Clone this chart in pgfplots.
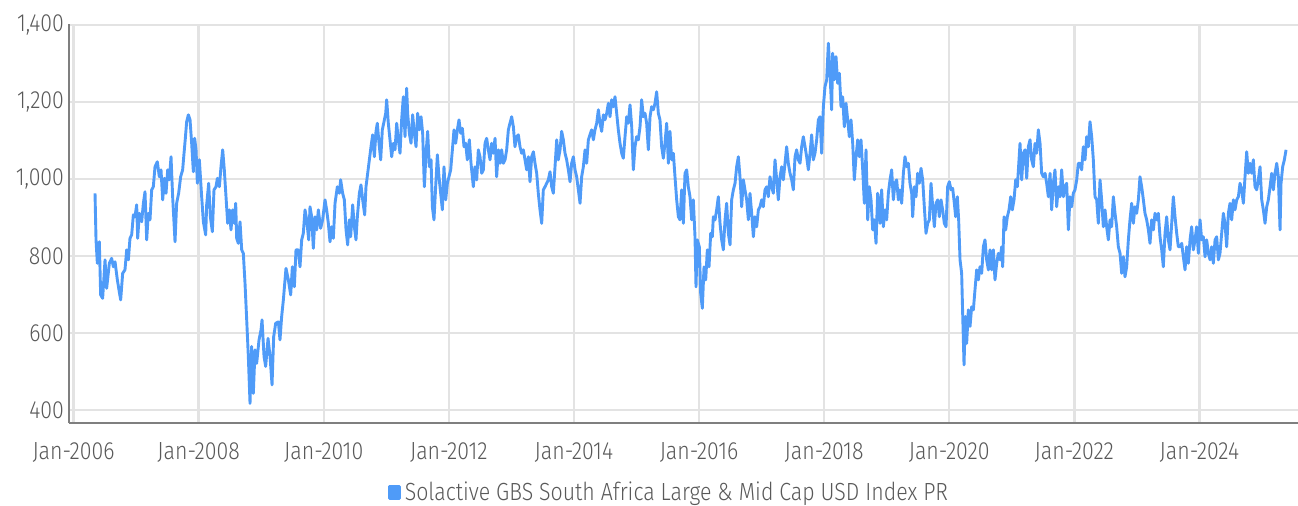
\documentclass[border=0pt]{standalone}
\usepackage{pgfplots}
\pgfplotsset{compat=1.18}
\usepackage{pgfplotstable}
\usepackage{fontspec}
\setmainfont{Fira Sans}[UprightFont=* Light, FakeStretch=0.86]
\definecolor{linecol}{HTML}{4F9BF8}
\definecolor{txtcol}{HTML}{595959}
\definecolor{gridcol}{HTML}{E3E3E3}
\definecolor{axcol}{HTML}{7F7F7F}
\pgfplotstableread{
t v
2006.344 963
2006.360 842
2006.381 781
2006.413 837
2006.434 699
2006.466 690
2006.504 790
2006.530 716
2006.573 781
2006.610 794
2006.637 772
2006.664 785
2006.701 738
2006.727 712
2006.754 686
2006.786 755
2006.823 764
2006.850 816
2006.877 790
2006.903 846
2006.930 855
2006.957 907
2006.983 902
2007.010 933
2007.026 846
2007.053 911
2007.090 889
2007.117 937
2007.143 967
2007.170 842
2007.196 911
2007.223 894
2007.250 972
2007.276 980
2007.303 1032
2007.340 1045
2007.372 1006
2007.399 1024
2007.426 946
2007.452 1002
2007.479 963
2007.506 1024
2007.532 998
2007.559 1058
2007.585 954
2007.623 837
2007.649 937
2007.681 963
2007.713 1006
2007.745 1024
2007.767 1067
2007.788 1106
2007.809 1149
2007.836 1167
2007.863 1154
2007.889 1093
2007.916 1019
2007.937 1106
2007.959 1076
2007.980 989
2008.012 1050
2008.049 954
2008.076 889
2008.113 855
2008.129 933
2008.161 989
2008.188 902
2008.220 863
2008.246 972
2008.278 980
2008.300 1002
2008.332 980
2008.358 1032
2008.385 1076
2008.411 1024
2008.438 954
2008.465 885
2008.491 920
2008.518 868
2008.545 920
2008.571 885
2008.593 937
2008.609 846
2008.635 833
2008.662 889
2008.689 816
2008.715 807
2008.742 729
2008.769 634
2008.795 539
2008.822 417
2008.848 565
2008.875 443
2008.902 556
2008.928 521
2008.966 582
2008.998 608
2009.014 634
2009.046 539
2009.072 513
2009.110 586
2009.142 539
2009.174 465
2009.200 590
2009.232 625
2009.275 629
2009.301 582
2009.328 643
2009.355 686
2009.397 768
2009.435 738
2009.472 699
2009.499 772
2009.531 720
2009.557 816
2009.594 816
2009.621 772
2009.648 842
2009.674 859
2009.701 920
2009.728 894
2009.760 842
2009.781 928
2009.808 902
2009.834 820
2009.861 902
2009.888 868
2009.914 920
2009.951 872
2009.983 894
2010.021 946
2010.047 920
2010.074 885
2010.101 837
2010.127 876
2010.154 846
2010.181 937
2010.218 980
2010.250 963
2010.271 998
2010.303 963
2010.330 946
2010.357 868
2010.383 829
2010.410 894
2010.431 850
2010.463 933
2010.490 876
2010.516 842
2010.538 902
2010.570 963
2010.596 985
2010.623 946
2010.655 907
2010.676 980
2010.703 1015
2010.730 1050
2010.756 1084
2010.783 1115
2010.810 1058
2010.836 1124
2010.857 1145
2010.884 1093
2010.911 1050
2010.937 1128
2010.964 1149
2010.991 1171
2011.007 1206
2011.033 1145
2011.060 1102
2011.087 1058
2011.113 1093
2011.140 1076
2011.167 1145
2011.193 1102
2011.220 1067
2011.246 1154
2011.273 1214
2011.300 1110
2011.326 1236
2011.342 1171
2011.369 1119
2011.396 1093
2011.422 1167
2011.449 1119
2011.476 1084
2011.502 1171
2011.529 1128
2011.556 1162
2011.582 1119
2011.609 980
2011.636 1067
2011.662 1124
2011.689 1032
2011.716 1050
2011.737 928
2011.763 894
2011.790 980
2011.817 1063
2011.843 1006
2011.870 963
2011.897 920
2011.923 1032
2011.950 946
2011.977 989
2012.003 1006
2012.030 1024
2012.057 1076
2012.083 1128
2012.110 1093
2012.137 1128
2012.163 1154
2012.190 1119
2012.217 1132
2012.243 1084
2012.270 1093
2012.296 1050
2012.328 1102
2012.355 1041
2012.392 980
2012.419 1032
2012.446 998
2012.472 1076
2012.499 1058
2012.526 1015
2012.552 1024
2012.579 1093
2012.605 1106
2012.632 1076
2012.659 1050
2012.685 1093
2012.712 1067
2012.739 1106
2012.765 1006
2012.792 1076
2012.819 1041
2012.845 1076
2012.872 1041
2012.899 1050
2012.925 1076
2012.952 1128
2012.978 1145
2013.005 1162
2013.032 1136
2013.058 1084
2013.085 1110
2013.112 1115
2013.138 1084
2013.165 1067
2013.192 1076
2013.218 1050
2013.245 1024
2013.272 1058
2013.298 993
2013.325 1058
2013.352 1071
2013.378 1041
2013.405 1015
2013.431 963
2013.458 920
2013.485 885
2013.511 972
2013.538 980
2013.565 989
2013.591 998
2013.618 1019
2013.645 980
2013.671 963
2013.698 1032
2013.725 1102
2013.751 1050
2013.778 1076
2013.804 1124
2013.831 1102
2013.858 1067
2013.884 1050
2013.911 1024
2013.938 993
2013.964 1041
2013.991 1058
2014.018 1024
2014.044 1006
2014.071 972
2014.098 937
2014.124 1006
2014.151 1032
2014.178 1076
2014.204 1041
2014.231 1102
2014.257 1115
2014.284 1128
2014.311 1102
2014.337 1128
2014.364 1145
2014.391 1180
2014.417 1145
2014.444 1124
2014.471 1167
2014.497 1154
2014.524 1171
2014.551 1197
2014.577 1162
2014.604 1206
2014.630 1188
2014.657 1214
2014.684 1171
2014.710 1128
2014.737 1093
2014.764 1067
2014.790 1054
2014.817 1110
2014.844 1162
2014.870 1145
2014.897 1193
2014.924 1136
2014.950 1024
2014.977 1084
2015.003 1110
2015.030 1102
2015.057 1136
2015.083 1206
2015.110 1162
2015.137 1171
2015.163 1145
2015.190 1076
2015.217 1162
2015.243 1188
2015.270 1180
2015.297 1197
2015.323 1227
2015.350 1171
2015.376 1154
2015.403 1084
2015.430 1054
2015.456 1093
2015.483 1145
2015.510 1041
2015.536 1124
2015.563 1050
2015.590 1067
2015.616 1006
2015.643 946
2015.670 902
2015.696 894
2015.723 972
2015.750 885
2015.776 1015
2015.803 1024
2015.829 980
2015.856 954
2015.883 894
2015.909 946
2015.936 850
2015.952 720
2015.973 842
2016.005 824
2016.027 703
2016.053 664
2016.080 772
2016.107 738
2016.133 816
2016.160 772
2016.187 859
2016.213 850
2016.229 902
2016.256 894
2016.282 920
2016.309 954
2016.336 885
2016.362 842
2016.389 816
2016.416 894
2016.442 937
2016.469 859
2016.496 829
2016.522 946
2016.549 972
2016.576 989
2016.602 1032
2016.629 1058
2016.655 1006
2016.682 928
2016.709 998
2016.735 972
2016.762 946
2016.789 894
2016.815 963
2016.842 911
2016.869 850
2016.895 902
2016.922 876
2016.949 920
2016.975 928
2017.002 946
2017.028 928
2017.055 972
2017.082 980
2017.108 954
2017.135 1006
2017.162 980
2017.188 963
2017.215 1050
2017.242 998
2017.268 946
2017.295 1006
2017.322 1032
2017.348 998
2017.375 1041
2017.401 1084
2017.428 1041
2017.455 1015
2017.481 998
2017.508 972
2017.535 1058
2017.561 1076
2017.588 1050
2017.615 1041
2017.641 1084
2017.668 1110
2017.695 1084
2017.721 1058
2017.748 1024
2017.775 1067
2017.801 1115
2017.828 1050
2017.854 1067
2017.881 1102
2017.908 1154
2017.934 1162
2017.961 1067
2017.988 1188
2018.014 1240
2018.041 1258
2018.068 1353
2018.094 1275
2018.121 1180
2018.137 1327
2018.164 1258
2018.190 1318
2018.217 1249
2018.244 1275
2018.270 1188
2018.297 1214
2018.323 1136
2018.350 1197
2018.377 1154
2018.403 1110
2018.430 1154
2018.457 1093
2018.483 998
2018.510 1058
2018.537 1102
2018.563 1058
2018.590 1102
2018.617 1024
2018.643 937
2018.670 1076
2018.697 894
2018.723 980
2018.750 946
2018.777 868
2018.803 894
2018.830 833
2018.856 963
2018.883 928
2018.894 885
2018.920 972
2018.947 876
2018.974 920
2019.000 894
2019.027 963
2019.054 998
2019.080 1024
2019.107 946
2019.133 989
2019.160 998
2019.187 946
2019.213 972
2019.240 937
2019.267 1015
2019.293 1058
2019.320 1032
2019.347 1041
2019.373 989
2019.400 963
2019.416 902
2019.443 980
2019.469 954
2019.496 1015
2019.522 989
2019.549 1028
2019.576 998
2019.602 928
2019.629 859
2019.656 885
2019.682 894
2019.709 989
2019.736 928
2019.762 876
2019.789 937
2019.816 946
2019.842 902
2019.869 946
2019.895 920
2019.922 885
2019.949 876
2019.975 980
2020.002 993
2020.029 972
2020.055 976
2020.082 937
2020.103 902
2020.130 954
2020.151 894
2020.173 790
2020.199 755
2020.215 651
2020.237 517
2020.258 643
2020.279 573
2020.306 660
2020.333 617
2020.359 668
2020.386 660
2020.412 712
2020.439 764
2020.466 738
2020.492 772
2020.519 755
2020.546 824
2020.572 842
2020.599 790
2020.626 764
2020.652 816
2020.679 764
2020.706 816
2020.732 738
2020.759 781
2020.785 807
2020.812 790
2020.839 824
2020.855 772
2020.876 902
2020.903 868
2020.929 902
2020.956 920
2020.983 954
2021.009 920
2021.036 946
2021.063 998
2021.089 980
2021.116 1050
2021.132 1093
2021.159 998
2021.185 1067
2021.212 1076
2021.239 1002
2021.265 1084
2021.292 1102
2021.318 1050
2021.345 1032
2021.372 1093
2021.398 1067
2021.425 1128
2021.452 1093
2021.478 1015
2021.505 1006
2021.532 1015
2021.558 989
2021.585 954
2021.612 1015
2021.638 920
2021.665 989
2021.691 1024
2021.718 928
2021.745 980
2021.771 954
2021.798 1024
2021.825 954
2021.851 980
2021.878 989
2021.905 868
2021.931 954
2021.958 928
2021.984 963
2022.011 972
2022.038 998
2022.064 1041
2022.091 1041
2022.118 1024
2022.144 1084
2022.171 1050
2022.198 1110
2022.224 1084
2022.251 1149
2022.278 1110
2022.304 1050
2022.331 954
2022.358 946
2022.384 885
2022.411 998
2022.437 946
2022.464 876
2022.491 920
2022.517 876
2022.544 842
2022.571 894
2022.597 876
2022.624 954
2022.651 911
2022.677 876
2022.704 824
2022.731 807
2022.757 755
2022.784 798
2022.810 746
2022.837 772
2022.864 842
2022.890 894
2022.917 937
2022.944 885
2022.970 928
2022.997 911
2023.024 946
2023.050 1006
2023.077 980
2023.104 946
2023.130 911
2023.157 894
2023.184 868
2023.210 833
2023.237 894
2023.264 868
2023.290 911
2023.317 894
2023.343 911
2023.370 850
2023.397 816
2023.423 772
2023.450 859
2023.477 902
2023.503 842
2023.530 816
2023.557 885
2023.583 954
2023.610 902
2023.637 859
2023.663 824
2023.690 824
2023.717 833
2023.743 798
2023.770 764
2023.796 824
2023.823 781
2023.850 842
2023.876 876
2023.903 816
2023.930 842
2023.956 876
2023.983 807
2024.010 894
2024.036 842
2024.063 850
2024.090 798
2024.116 842
2024.143 807
2024.170 790
2024.196 824
2024.223 781
2024.250 842
2024.276 850
2024.303 790
2024.329 807
2024.356 859
2024.383 911
2024.409 885
2024.436 824
2024.463 911
2024.489 937
2024.516 894
2024.543 946
2024.569 920
2024.596 946
2024.623 954
2024.649 989
2024.676 972
2024.703 937
2024.729 1006
2024.756 1071
2024.782 1015
2024.809 1041
2024.836 1015
2024.862 1050
2024.889 980
2024.916 972
2024.942 998
2024.969 1032
2024.996 946
2025.022 920
2025.049 885
2025.076 928
2025.102 946
2025.129 980
2025.156 1015
2025.182 972
2025.209 1015
2025.236 1041
2025.262 1006
2025.289 868
2025.305 989
2025.331 1032
2025.358 1050
2025.385 1076
}\indexdata
\begin{document}
\begin{tikzpicture}
\useasboundingbox (-34.5pt,-41pt) rectangle (614.5pt,211.5pt);
\begin{axis}[
  at={(0,0)}, anchor=south west,
  scale only axis, width=614.5pt, height=199.5pt,
  xmin=2005.928, xmax=2025.576,
  ymin=366, ymax=1403,
  axis lines=left,
  axis line style={-, color=axcol, line width=1pt},
  xtick={2006,2008,2010,2012,2014,2016,2018,2020,2022,2024},
  xticklabels={Jan-2006,Jan-2008,Jan-2010,Jan-2012,Jan-2014,Jan-2016,Jan-2018,Jan-2020,Jan-2022,Jan-2024},
  ytick={400,600,800,1000,1200,1400},
  major tick length=0pt,
  grid=major,
  major grid style={color=gridcol, line width=1.2pt},
  tick label style={font=\fontsize{12.4}{14}\selectfont, text=txtcol},
  xticklabel style={yshift=-6pt},
  yticklabel style={xshift=1pt},
  /pgf/number format/assume math mode=true,
  /pgf/number format/.cd, 1000 sep={,},
  /pgfplots/.cd,
  legend style={at={(0.489,-0.175)}, anchor=center, draw=none, fill=none,
    font=\fontsize{12.4}{14}\selectfont, text=txtcol, inner sep=0pt,
    /tikz/every even column/.append style={column sep=0pt}},
  legend image code/.code={\fill[linecol] (0pt,-3pt) rectangle (5pt,3pt);},
  legend cell align=left,
]
\addplot[color=linecol, line width=1.45pt, line join=round] table[x=t, y=v] {\indexdata};
\addlegendentry{Solactive GBS South Africa Large \& Mid Cap USD Index PR}
\end{axis}
\end{tikzpicture}
\end{document}
